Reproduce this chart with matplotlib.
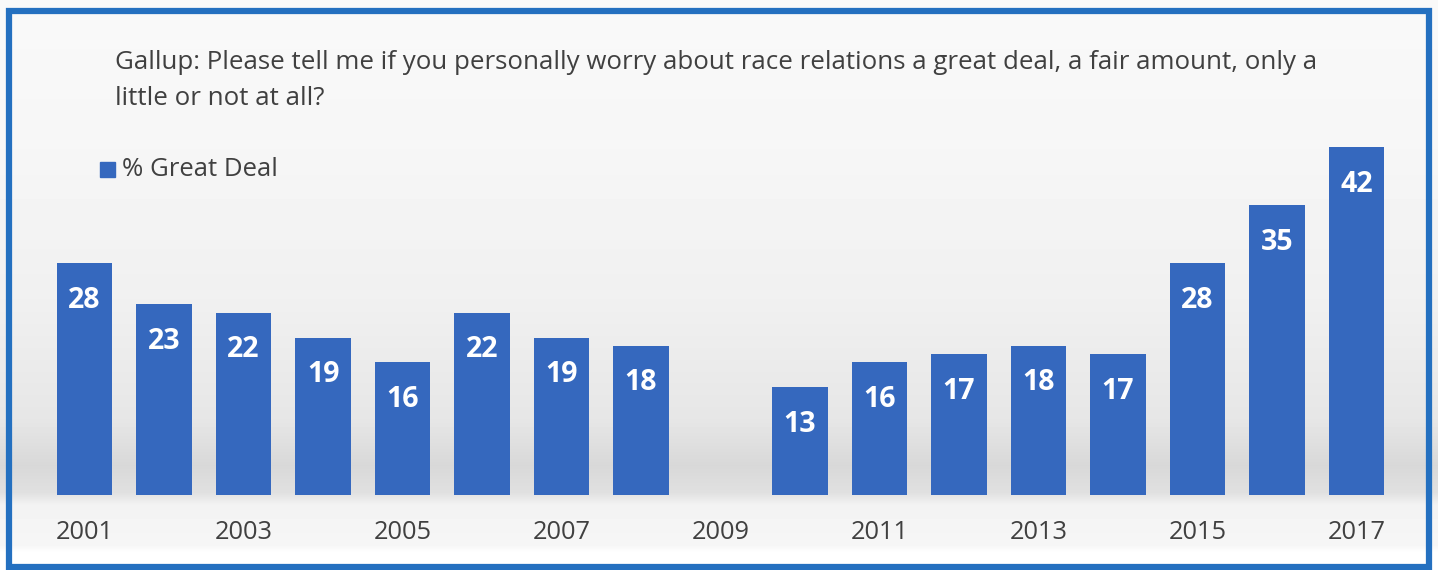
import matplotlib
matplotlib.use("Agg")
import matplotlib.pyplot as plt
from matplotlib.patches import Rectangle
import numpy as np

years = [2001, 2002, 2003, 2004, 2005, 2006, 2007, 2008, 2009,
         2010, 2011, 2012, 2013, 2014, 2015, 2016, 2017]
great_deal = [28, 23, 22, 19, 16, 22, 19, 18, None,
              13, 16, 17, 18, 17, 28, 35, 42]
tick_years = [2001, 2003, 2005, 2007, 2009, 2011, 2013, 2015, 2017]
title = ("Gallup: Please tell me if you personally worry about race relations a great deal, a fair amount, only a\n"
         "little or not at all?")
legend_label = "% Great Deal"

W, H = 1438, 570
plt.rcParams['font.family'] = ['Open Sans', 'DejaVu Sans']
fig = plt.figure(figsize=(W / 100, H / 100), dpi=100)

# background gradient (grey band behind the bars)
bg = fig.add_axes([0, 0, 1, 1], zorder=0)
rows = np.arange(H)
stops_y = [0, 150, 300, 420, 465, 492, 505, 545, 552, 570]
stops_v = [249, 246, 240, 230, 216, 224, 243, 246, 255, 255]
shade = np.interp(rows, stops_y, stops_v) / 255.0
img = np.repeat(shade[:, None], 4, axis=1)
bg.imshow(img, cmap='gray', vmin=0, vmax=1, aspect='auto', extent=[0, W, H, 0])
bg.set_xlim(0, W)
bg.set_ylim(H, 0)
bg.axis('off')
bg.add_patch(Rectangle((9, 11), W - 18, H - 14, fill=False,
                       edgecolor='#2470C0', linewidth=4.5))

# main axes, placed in pixel terms
left_px, right_px = 33, 1408
bottom_px, top_px = 495, 147
ax = fig.add_axes([left_px / W, 1 - bottom_px / H,
                   (right_px - left_px) / W, (bottom_px - top_px) / H], zorder=1)
ax.patch.set_alpha(0)

xs = [y for y, v in zip(years, great_deal) if v is not None]
vs = [v for v in great_deal if v is not None]
ax.bar(xs, vs, width=0.7, color='#3568BE', zorder=2)
for x, v in zip(xs, vs):
    ax.annotate(str(v), (x, v), xytext=(0, -37), textcoords='offset pixels',
                ha='center', va='center', color='white', fontsize=20.5,
                fontweight='bold', zorder=3)

ax.set_xlim(2000.35, 2017.65)
ax.set_ylim(0, 42)
ax.set_xticks(tick_years)
ax.set_xticklabels([str(t) for t in tick_years], fontsize=18.3, color='#404040')
ax.tick_params(axis='x', length=0, pad=18)
ax.set_yticks([])
for s in ax.spines.values():
    s.set_visible(False)

fig.text(115 / W, 1 - 50 / H, title, fontsize=18.6, color='#404040',
         va='top', ha='left', linespacing=1.58)

# legend
fig.patches.append(Rectangle((100 / W, 1 - 177 / H), 15 / W, 15 / H,
                             transform=fig.transFigure, color='#3568BE', zorder=3))
fig.text(122 / W, 1 - 169 / H, legend_label, fontsize=18.5, color='#404040',
         va='center', ha='left')

fig.savefig("out.png", dpi=100)
